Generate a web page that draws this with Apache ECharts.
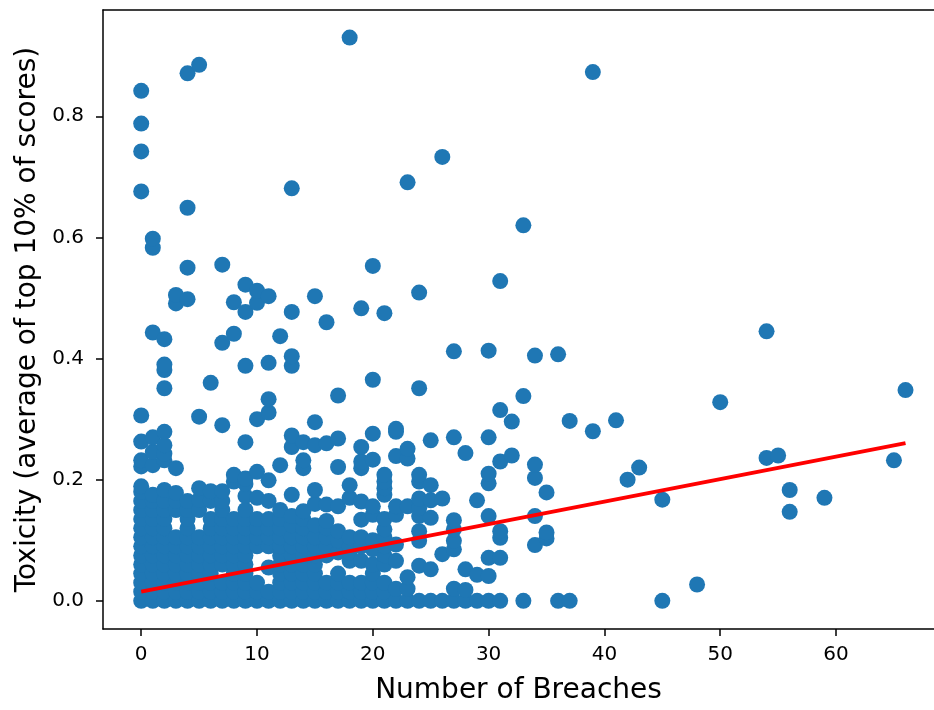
<!DOCTYPE html>
<html>
<head>
<meta charset="utf-8">
<script src="https://cdn.jsdelivr.net/npm/echarts@6/dist/echarts.min.js"></script>
<style>html,body{margin:0;padding:0;background:#fff;}#chart{width:934px;height:710px;}</style>
</head>
<body>
<div id="chart"></div>
<script>
// Number of breaches (x) and, for each, the toxicity values
const breachCounts = [0,1,2,3,4,5,6,7,8,9,10,11,12,13,14,15,16,17,18,19,20,21,22,23,24,25,26,27,28,29,30,31,32,33,34,35,36,37,39,41,42,43,45,48,50,54,55,56,59,65,66];
const toxicityByColumn = [
  [0,.015,.03,.045,.06,.075,.09,.105,.12,.135,.15,.165,.18,.189,.222,.232,.263,.306,.676,.742,.788,.842],
  [0,.015,.03,.045,.06,.075,.09,.105,.12,.135,.15,.165,.175,.224,.246,.27,.443,.583,.598],
  [0,.015,.03,.045,.06,.075,.09,.105,.12,.135,.15,.165,.183,.232,.243,.257,.279,.351,.381,.39,.432],
  [0,.015,.03,.045,.06,.075,.09,.105,.15,.165,.178,.219,.491,.505],
  [0,.015,.03,.045,.06,.075,.09,.105,.12,.135,.15,.165,.498,.55,.649,.871],
  [0,.015,.03,.045,.06,.075,.09,.105,.15,.167,.186,.304,.885],
  [0,.015,.03,.045,.06,.075,.09,.105,.12,.135,.165,.181,.36],
  [0,.015,.03,.06,.075,.09,.105,.12,.135,.15,.165,.181,.29,.426,.555],
  [0,.015,.03,.045,.06,.075,.09,.105,.12,.135,.197,.208,.441,.493],
  [0,.015,.03,.045,.06,.075,.09,.105,.12,.135,.15,.173,.193,.202,.262,.388,.477,.522],
  [0,.015,.03,.09,.105,.12,.135,.17,.213,.3,.492,.512],
  [0,.015,.055,.09,.105,.12,.135,.165,.199,.311,.333,.393,.503],
  [0,.015,.03,.045,.06,.075,.09,.105,.12,.135,.15,.224,.437],
  [0,.015,.03,.045,.06,.075,.09,.105,.125,.14,.175,.254,.273,.388,.404,.477,.681],
  [0,.015,.03,.045,.06,.075,.09,.105,.12,.135,.148,.219,.232,.262],
  [0,.015,.03,.045,.06,.075,.09,.105,.125,.16,.183,.257,.295,.503],
  [0,.015,.03,.075,.09,.105,.12,.132,.159,.26,.46],
  [0,.015,.03,.045,.08,.1,.115,.156,.221,.268,.339],
  [0,.015,.03,.066,.08,.09,.105,.17,.191,.93],
  [0,.015,.03,.066,.09,.105,.134,.164,.219,.23,.254,.483],
  [0,.015,.03,.045,.06,.085,.1,.142,.156,.233,.276,.365,.553],
  [0,.015,.03,.06,.075,.09,.105,.118,.135,.175,.186,.197,.208,.475],
  [0,.02,.066,.093,.142,.156,.239,.279,.284],
  [0,.02,.039,.156,.235,.251,.691],
  [0,.058,.099,.115,.14,.153,.169,.197,.208,.351,.509],
  [0,.052,.137,.166,.191,.265],
  [0,.077,.169,.733],
  [0,.02,.085,.099,.118,.133,.27,.412],
  [0,.018,.052,.244],
  [0,.043,.166],
  [0,.041,.071,.14,.194,.21,.27,.413],
  [0,.071,.104,.115,.23,.315,.528],
  [.24,.296],
  [0,.338,.62],
  [.092,.14,.203,.225,.405],
  [.103,.113,.179],
  [0,.407],
  [0,.297],
  [.28,.873],
  [.298],
  [.2],
  [.22],
  [0,.167],
  [.027],
  [.328],
  [.236,.445],
  [.24],
  [.147,.183],
  [.17],
  [.232],
  [.348]
];
// Fitted regression line end points
const trendX = [0, 66];
const trendY = [0.0152, 0.2604];
// Tick labels
const xTicks = [0, 10, 20, 30, 40, 50, 60];
const yTicks = [0, 0.2, 0.4, 0.6, 0.8];

const scatterData = [];
breachCounts.forEach((x, i) => toxicityByColumn[i].forEach(y => scatterData.push([x, y])));
const trendData = trendX.map((x, i) => [x, trendY[i]]);

const FONT = 'DejaVu Sans';
const chart = echarts.init(document.getElementById('chart'), null, {renderer: 'canvas'});
chart.setOption({
  animation: false,
  backgroundColor: '#ffffff',
  grid: {left: 103, right: 0, top: 10, bottom: 75, containLabel: false},
  xAxis: [{
    type: 'value', min: -3.3, max: 68.46, position: 'bottom',
    name: 'Number of Breaches', nameLocation: 'middle', nameGap: 48,
    nameTextStyle: {fontFamily: FONT, fontSize: 28, color: '#000'},
    axisLine: {show: true, onZero: false, lineStyle: {color: '#000', width: 1.5}},
    axisTick: {show: true, inside: false, length: 7, lineStyle: {color: '#000', width: 1.5}, customValues: xTicks},
    axisLabel: {fontFamily: FONT, fontSize: 20, color: '#000', margin: 16, customValues: xTicks, formatter: v => String(v)},
    splitLine: {show: false}
  }, {
    type: 'value', min: -3.3, max: 68.46, position: 'top',
    axisLine: {show: true, onZero: false, lineStyle: {color: '#000', width: 1.5}},
    axisTick: {show: false}, axisLabel: {show: false}, splitLine: {show: false}
  }],
  yAxis: {
    type: 'value', min: -0.0465, max: 0.9755,
    name: 'Toxicity (average of top 10% of scores)', nameLocation: 'middle', nameGap: 60, nameRotate: 90,
    nameTextStyle: {fontFamily: FONT, fontSize: 28, color: '#000'},
    axisLine: {show: true, onZero: false, lineStyle: {color: '#000', width: 1.5}},
    axisTick: {show: true, inside: false, length: 7, lineStyle: {color: '#000', width: 1.5}, customValues: yTicks},
    axisLabel: {fontFamily: FONT, fontSize: 20, color: '#000', margin: 19, customValues: yTicks, formatter: v => v.toFixed(1)},
    splitLine: {show: false}
  },
  series: [{
    type: 'scatter', xAxisIndex: 0, data: scatterData, symbol: 'circle', symbolSize: 16,
    itemStyle: {color: '#1f77b4', opacity: 1}, z: 2
  }, {
    type: 'line', xAxisIndex: 0, data: trendData, showSymbol: false, symbol: 'none',
    lineStyle: {color: '#ff0000', width: 4}, z: 3
  }]
});
</script>
</body>
</html>
